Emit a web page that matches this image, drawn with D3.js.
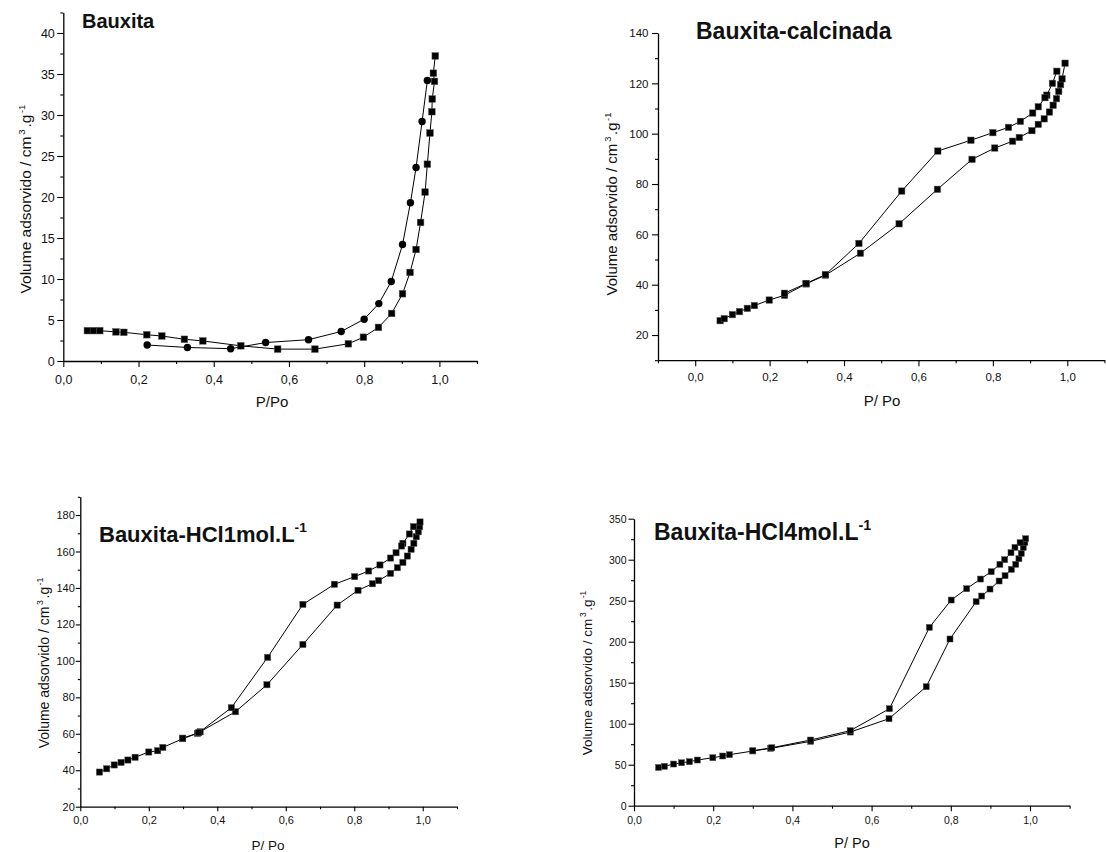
<!DOCTYPE html>
<html><head><meta charset="utf-8">
<script src="https://cdn.jsdelivr.net/npm/d3@7"></script>
<style>
body{margin:0;background:#fff}
svg{display:block}
text{font-family:"Liberation Sans",Arial,Helvetica,sans-serif;fill:#111}
</style>
</head><body>
<svg id="c" width="1106" height="852"></svg>
<script>
// ---------- DATA (P/Po, volume adsorvido cm3/g) ----------
const bauxitaAdsorcao = [[0.064,3.7],[0.080,3.7],[0.097,3.7],[0.140,3.55],[0.161,3.5],[0.222,3.2],[0.262,3.05],[0.322,2.65],[0.371,2.45],[0.472,1.85],[0.570,1.45],[0.669,1.45],[0.758,2.1],[0.798,2.9],[0.838,4.1],[0.873,5.8],[0.902,8.2],[0.922,10.8],[0.938,13.6],[0.950,16.9],[0.962,20.6],[0.968,24.0],[0.975,27.8],[0.980,30.4],[0.981,31.95],[0.987,34.1],[0.984,35.1],[0.989,37.2]];
const bauxitaDessorcao = [[0.968,34.2],[0.954,29.2],[0.938,23.6],[0.923,19.3],[0.902,14.2],[0.872,9.7],[0.839,7.0],[0.800,5.1],[0.739,3.6],[0.652,2.6],[0.538,2.25],[0.445,1.5],[0.330,1.65],[0.223,1.95]];

const calcinadaAdsorcao = [[0.067,25.7],[0.078,26.5],[0.100,28.1],[0.119,29.3],[0.140,30.6],[0.159,31.7],[0.199,33.9],[0.240,35.8],[0.298,40.3],[0.350,43.8],[0.444,52.5],[0.548,64.2],[0.651,77.9],[0.744,89.8],[0.805,94.3],[0.853,97.0],[0.871,98.5],[0.905,101.2],[0.922,103.7],[0.938,105.9],[0.952,108.6],[0.962,111.3],[0.971,113.9],[0.977,116.8],[0.982,119.5],[0.986,121.8],[0.994,128.0]];
const calcinadaDessorcao = [[0.972,124.8],[0.960,120.0],[0.945,115.3],[0.940,114.3],[0.922,110.7],[0.907,108.2],[0.874,104.9],[0.842,102.5],[0.800,100.4],[0.741,97.4],[0.652,93.1],[0.555,77.2],[0.440,56.4],[0.350,44.0],[0.298,40.5],[0.240,36.6]];

const hcl1Adsorcao = [[0.056,39.0],[0.077,40.8],[0.099,42.9],[0.119,44.3],[0.139,45.6],[0.160,47.1],[0.200,50.0],[0.226,50.7],[0.241,52.5],[0.299,57.3],[0.342,60.2],[0.350,61.1],[0.453,72.1],[0.545,86.9],[0.650,109.0],[0.750,130.6],[0.811,138.7],[0.853,142.3],[0.871,144.0],[0.906,148.0],[0.926,151.1],[0.942,154.0],[0.955,157.5],[0.966,161.2],[0.974,164.5],[0.981,168.1],[0.987,170.8],[0.991,173.6],[0.992,176.2]];
const hcl1Dessorcao = [[0.973,173.6],[0.961,169.6],[0.942,164.5],[0.938,163.0],[0.922,159.3],[0.906,156.4],[0.875,152.6],[0.842,149.3],[0.801,146.2],[0.742,142.0],[0.650,131.0],[0.547,101.9],[0.441,74.3],[0.346,60.6],[0.299,57.6]];

const hcl4Adsorcao = [[0.062,46.7],[0.077,48.0],[0.100,50.8],[0.120,52.4],[0.140,53.7],[0.160,55.7],[0.199,58.5],[0.224,60.6],[0.241,62.2],[0.300,66.7],[0.345,69.9],[0.446,78.5],[0.546,89.8],[0.644,106.1],[0.738,145.1],[0.798,203.3],[0.864,248.8],[0.878,255.7],[0.899,264.2],[0.922,274.0],[0.937,280.5],[0.953,288.2],[0.964,294.3],[0.972,301.2],[0.978,307.7],[0.983,315.0],[0.987,321.1],[0.989,325.6]];
const hcl4Dessorcao = [[0.975,320.7],[0.962,315.0],[0.952,308.5],[0.936,300.0],[0.924,294.3],[0.902,285.4],[0.875,276.4],[0.840,264.6],[0.801,250.8],[0.746,217.5],[0.645,118.3],[0.546,91.5],[0.446,80.1],[0.348,70.7],[0.300,67.0]];

// tick values
const xTicksMajor = [0,0.2,0.4,0.6,0.8,1.0];
const xTicksMinor = [0.1,0.3,0.5,0.7,0.9,1.1];
const xTicksMinorCalc = [-0.1,0.1,0.3,0.5,0.7,0.9,1.1];
const y1Major = [0,5,10,15,20,25,30,35,40];
const y1Minor = [2.5,7.5,12.5,17.5,22.5,27.5,32.5,37.5,42.5];
const y2Major = [20,40,60,80,100,120,140];
const y2Minor = [10,30,50,70,90,110,130];
const y3Major = [20,40,60,80,100,120,140,160,180];
const y3Minor = [30,50,70,90,110,130,150,170,190];
const y4Major = [0,50,100,150,200,250,300,350];
const y4Minor = [25,75,125,175,225,275,325];

const titles = ["Bauxita","Bauxita-calcinada","Bauxita-HCl1mol.L","Bauxita-HCl4mol.L"];
const yTitle = "Volume adsorvido / cm";
// ---------------------------------------------------------

const svg = d3.select("#c");
const fmtX = v => d3.format(".1f")(v).replace(".", ",");
const fmtY = v => String(v);

function panel(cfg){
  const g = svg.append("g");
  const x = d3.scaleLinear().domain(cfg.xd).range(cfg.xr);
  const y = d3.scaleLinear().domain(cfg.yd).range(cfg.yr);
  const x0 = cfg.yr[0], yAxisX = cfg.xr[0];

  // axes
  const ax = g.append("g").attr("transform",`translate(0,${x0})`)
    .call(d3.axisBottom(x).tickValues(cfg.xMajor).tickFormat(fmtX).tickSize(cfg.tMaj).tickSizeOuter(0).tickPadding(cfg.xPad));
  g.append("g").attr("transform",`translate(0,${x0})`)
    .call(d3.axisBottom(x).tickValues(cfg.xMinor).tickFormat("").tickSize(cfg.tMin).tickSizeOuter(0))
    .select(".domain").remove();
  const ay = g.append("g").attr("transform",`translate(${yAxisX},0)`)
    .call(d3.axisLeft(y).tickValues(cfg.yMajor).tickFormat(fmtY).tickSize(cfg.tMaj).tickSizeOuter(0).tickPadding(cfg.yPad));
  g.append("g").attr("transform",`translate(${yAxisX},0)`)
    .call(d3.axisLeft(y).tickValues(cfg.yMinor).tickFormat("").tickSize(cfg.tMin).tickSizeOuter(0))
    .select(".domain").remove();
  g.selectAll(".domain").attr("stroke","#000").attr("stroke-width",1.3);
  g.selectAll(".tick line").attr("stroke","#000").attr("stroke-width",1.1);
  g.selectAll(".tick text").attr("font-size",cfg.tf).attr("fill","#222")
    .attr("font-family",'"Liberation Sans",Arial,sans-serif');

  const line = d3.line().x(d=>x(d[0])).y(d=>y(d[1]));
  cfg.series.forEach(s=>{
    g.append("path").datum(s.data).attr("d",line)
      .attr("fill","none").attr("stroke","#000").attr("stroke-width",1);
  });
  cfg.series.forEach(s=>{
    if(s.shape==="circle"){
      g.selectAll(null).data(s.data).enter().append("circle")
        .attr("cx",d=>x(d[0])).attr("cy",d=>y(d[1])).attr("r",cfg.ms/2+0.4)
        .attr("fill","#000");
    } else {
      g.selectAll(null).data(s.data).enter().append("rect")
        .attr("x",d=>x(d[0])-cfg.ms/2).attr("y",d=>y(d[1])-cfg.ms/2)
        .attr("width",cfg.ms).attr("height",cfg.ms)
        .attr("fill","#000").attr("stroke","#555").attr("stroke-width",0.5);
    }
  });

  // title
  const t = g.append("text").attr("x",cfg.tx).attr("y",cfg.ty)
    .attr("font-size",cfg.tsize).attr("font-weight","bold").attr("fill","#000")
    .text(cfg.title);
  if(cfg.titleSup){
    t.append("tspan").attr("font-size",cfg.tsize*0.62).attr("dy",-cfg.tsize*0.45).text("-1");
  }

  // y label
  const yl = g.append("text")
    .attr("transform",`translate(${cfg.ylx},${cfg.yly}) rotate(-90)`)
    .attr("text-anchor","middle").attr("font-size",cfg.ylf).attr("fill","#222");
  const fs = cfg.ylf;
  yl.append("tspan").text(yTitle);
  yl.append("tspan").attr("font-size",fs*0.62).attr("dy",-fs*0.42).attr("dx",fs*0.12).text("3");
  yl.append("tspan").attr("dy",fs*0.42).attr("dx",fs*0.12).text(".g");
  yl.append("tspan").attr("font-size",fs*0.62).attr("dy",-fs*0.42).attr("dx",fs*0.1).text("-1");

  // x label
  g.append("text").attr("x",cfg.xlx).attr("y",cfg.xly).attr("text-anchor","middle")
    .attr("font-size",cfg.xlf).attr("fill","#222").text(cfg.xlabel);
}

panel({
  xd:[0,1.1], xr:[63.3,477], yd:[0,42.5], yr:[361,12.5],
  xMajor:xTicksMajor, xMinor:xTicksMinor, yMajor:y1Major, yMinor:y1Minor,
  tMaj:6, tMin:3, xPad:8, yPad:2.5, tf:12.5, ms:6.6,
  series:[{data:bauxitaAdsorcao,shape:"square"},{data:bauxitaDessorcao,shape:"circle"}],
  title:titles[0], titleSup:false, tx:82, ty:28, tsize:20,
  ylx:31, yly:199, ylf:15.5,
  xlabel:"P/Po", xlx:272, xly:407, xlf:15
});
panel({
  xd:[-0.1,1.1], xr:[658,1104.5], yd:[10,140], yr:[360.2,33],
  xMajor:xTicksMajor, xMinor:xTicksMinorCalc, yMajor:y2Major, yMinor:y2Minor,
  tMaj:6, tMin:3, xPad:7, yPad:3.5, tf:11.5, ms:6.4,
  series:[{data:calcinadaAdsorcao,shape:"square"},{data:calcinadaDessorcao,shape:"square"}],
  title:titles[1], titleSup:false, tx:696, ty:39, tsize:23,
  ylx:617, yly:204, ylf:15,
  xlabel:"P/ Po", xlx:882, xly:406, xlf:15
});
panel({
  xd:[0,1.1], xr:[80.3,457], yd:[20,190], yr:[806.7,496.8],
  xMajor:xTicksMajor, xMinor:xTicksMinor, yMajor:y3Major, yMinor:y3Minor,
  tMaj:4.5, tMin:2.5, xPad:5, yPad:1, tf:11, ms:6.2,
  series:[{data:hcl1Adsorcao,shape:"square"},{data:hcl1Dessorcao,shape:"square"}],
  title:titles[2], titleSup:true, tx:99, ty:541.7, tsize:22,
  ylx:49, yly:663, ylf:14,
  xlabel:"P/ Po", xlx:268, xly:850, xlf:13.5
});
panel({
  xd:[0,1.1], xr:[634,1069.6], yd:[0,350], yr:[805.7,518.7],
  xMajor:xTicksMajor, xMinor:xTicksMinor, yMajor:y4Major, yMinor:y4Minor,
  tMaj:5.5, tMin:3, xPad:5, yPad:2, tf:10.5, ms:6,
  series:[{data:hcl4Adsorcao,shape:"square"},{data:hcl4Dessorcao,shape:"square"}],
  title:titles[3], titleSup:true, tx:654, ty:540, tsize:23,
  ylx:592, yly:673, ylf:13.5,
  xlabel:"P/ Po", xlx:852, xly:848, xlf:14.5
});
</script>
</body></html>
